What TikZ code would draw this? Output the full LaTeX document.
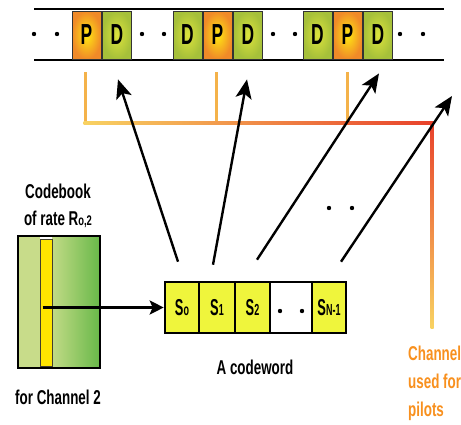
\documentclass[tikz,border=0pt]{standalone}
\usepackage{fontspec}
\setmainfont{Liberation Sans}
\newfontfamily\lblfont[FakeStretch=0.67]{Liberation Sans Bold}
\newfontfamily\cellfont[FakeStretch=0.6]{Liberation Sans Bold}
\newfontfamily\symfont[FakeStretch=0.56]{Liberation Sans Bold}
\usetikzlibrary{arrows.meta,calc}

\definecolor{pinner}{HTML}{FFE812}
\definecolor{pouter}{HTML}{F08A28}
\definecolor{dinner}{HTML}{DCE33C}
\definecolor{douter}{HTML}{A6C03A}
\definecolor{cwfill}{HTML}{EFF53C}
\definecolor{cbleft}{HTML}{C8DC8A}
\definecolor{cbright}{HTML}{68B849}
\definecolor{cbmid}{HTML}{C2DB86}
\definecolor{stripefill}{HTML}{FFE500}
\definecolor{pilotyel}{HTML}{F8D262}
\definecolor{pilotorg}{HTML}{F29A45}
\definecolor{pilotred}{HTML}{E8412B}
\definecolor{pilotvert}{HTML}{F4B24A}
\definecolor{chantext}{HTML}{F8901E}

\tikzset{
  bandline/.style={line width=2pt},
  slotcell/.style={draw=black!80, line width=0.8pt, minimum width=29pt,
    minimum height=48pt, inner sep=0pt, font=\cellfont\fontsize{29}{29}\selectfont},
  pcell/.style={slotcell, inner color=pinner, outer color=pouter},
  dcell/.style={slotcell, inner color=dinner, outer color=douter},
  cwcell/.style={draw=black, line width=2.6pt, fill=cwfill, minimum height=51pt,
    inner sep=0pt, font=\symfont\fontsize{23}{23}\selectfont},
  pilot/.style={draw=pilotvert, line width=3pt},
  mapping/.style={line width=2.4pt, -{Stealth[length=19pt,width=16pt,inset=4.5pt]}},
  feed/.style={line width=3pt, -{Stealth[length=14pt,width=14pt,inset=3pt]}},
  label/.style={font=\lblfont\fontsize{20}{20}\selectfont, inner sep=0pt},
  dot/.style={fill=black}
}

% smaller index text sitting on the baseline
\newcommand{\idx}[2]{{\fontsize{#1}{#1}\selectfont #2}}

\begin{document}
\begin{tikzpicture}[x=1pt,y=-1pt]
\useasboundingbox (0,0) rectangle (461,424);

% slot band with pilots (P) and data (D)
\draw[bandline] (34,9) -- (444,9);
\draw[bandline] (34,60) -- (444,60);
\node[pcell] (p1) at (86.5,35) {P};
\node[dcell] (d1) at (117,35) {D};
\node[dcell] (d2) at (187.5,35) {D};
\node[pcell] (p2) at (217.5,35) {P};
\node[dcell] (d3) at (248,35) {D};
\node[dcell] (d4) at (317.5,35) {D};
\node[pcell] (p3) at (347.5,35) {P};
\node[dcell] (d5) at (378,35) {D};
\foreach \x in {34,57,142,164,273,295,400,423}
  \fill[dot] (\x,34) circle (2.2pt);

% pilot channel feed lines
\draw[pilot] (85,72) -- (85,123);
\draw[pilot] (216,72) -- (216,123);
\draw[pilot] (347,72) -- (347,123);
\shade[left color=pilotyel, middle color=pilotorg, right color=pilotred]
  (83.5,121.5) rectangle (433.5,124.5);
\shade[top color=pilotred, bottom color=pilotyel]
  (430.5,121.5) rectangle (433.5,328);

% codebook
\fill[cbleft] (18,236) rectangle (40,368);
\shade[left color=cbmid, right color=cbright] (52,236) rectangle (100,368);
\node[draw=black!70!olive, line width=0.8pt, fill=stripefill, minimum width=12pt,
  minimum height=127pt, inner sep=0pt] (stripe) at (46,302.5) {};
\node[draw=black, line width=2pt, minimum width=82pt, minimum height=132pt,
  inner sep=0pt] (cb) at (59,302) {};

% codeword
\node[cwcell, minimum width=34pt] (s0) at (182,307.5) {S\idx{16}{o}};
\node[cwcell, minimum width=36pt] (s1) at (217,307.5) {S\idx{16}{1}};
\node[cwcell, minimum width=35pt] (s2) at (252.5,307.5) {S\idx{16}{2}};
\node[cwcell, minimum width=42pt, fill=white] (sd) at (291,307.5) {};
\node[cwcell, minimum width=34pt] (sn) at (329,307.5) {S\idx{16}{N-1}};
\fill[dot] (280,311) circle (2.2pt);
\fill[dot] (302,311) circle (2.2pt);

\draw[feed] ($(stripe.west |- s0.west)+(3,0)$) -- (s0.west);

% symbol-to-slot mapping
\draw[mapping] ($(s0.north)+(-4,-19)$) -- ($(d1.south)+(1,20)$);
\draw[mapping] ($(s1.north)+(-4,-16)$) -- ($(d3.south)+(-1,20)$);
\draw[mapping] ($(s2.north)+(4.5,-21)$) -- ($(d5.south)+(1,14)$);
\coordinate (nextslot) at (452,96);
\draw[mapping] ($(sn.north)+(12,-19)$) -- (nextslot);
\fill[dot] (329,208) circle (2.2pt);
\fill[dot] (352,208) circle (2.2pt);

% labels
\node[label] (cbt1) at (58,191) {Codebook};
\node[label] (cbt2) at (58,219) {of rate R\idx{14}{o,2}};
\node[label] (cbt3) at (58,397) {for Channel 2};
\node[label] (cwt) at (255,367) {A codeword};
\node[label, text=chantext, anchor=west, align=left] (cht) at (408,383)
  {Channel\\[8pt]used for\\[8pt]pilots};
\end{tikzpicture}
\end{document}
